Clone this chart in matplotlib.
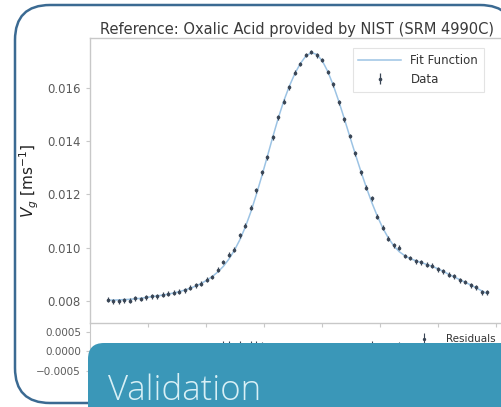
import numpy as np
import matplotlib
matplotlib.use("Agg")
import matplotlib.pyplot as plt
from matplotlib.patches import FancyBboxPatch

# Sampling grid of the sweep (arbitrary units)
freq = np.linspace(0.31, 6.85, 70)

# Fitted group velocity curve
fit_velocity = [
    0.00803, 0.00803, 0.00804, 0.00805, 0.00806, 0.00808, 0.00810, 0.00813, 0.00816, 0.00819,
    0.00822, 0.00826, 0.00830, 0.00835, 0.00841, 0.00848, 0.00856, 0.00866, 0.00878, 0.00892,
    0.00909, 0.00930, 0.00957, 0.00990, 0.01030, 0.01078, 0.01135, 0.01200, 0.01270, 0.01343,
    0.01417, 0.01488, 0.01552, 0.01607, 0.01654, 0.01692, 0.01720, 0.01733, 0.01726, 0.01702,
    0.01662, 0.01610, 0.01550, 0.01485, 0.01418, 0.01352, 0.01288, 0.01227, 0.01170, 0.01119,
    0.01074, 0.01037, 0.01007, 0.00985, 0.00970, 0.00959, 0.00951, 0.00944, 0.00937, 0.00930,
    0.00921, 0.00911, 0.00900, 0.00890, 0.00880, 0.00870, 0.00860, 0.00849, 0.00838, 0.00827,
]

# Measured group velocity
velocity = [
    0.00805, 0.00799, 0.00798, 0.00802, 0.00801, 0.00810, 0.00807, 0.00814, 0.00818, 0.00817,
    0.00823, 0.00827, 0.00831, 0.00834, 0.00840, 0.00849, 0.00858, 0.00865, 0.00880, 0.00890,
    0.00917, 0.00946, 0.00973, 0.00993, 0.01046, 0.01082, 0.01151, 0.01216, 0.01284, 0.01340,
    0.01415, 0.01490, 0.01549, 0.01603, 0.01657, 0.01690, 0.01724, 0.01735, 0.01723, 0.01705,
    0.01660, 0.01614, 0.01547, 0.01483, 0.01420, 0.01355, 0.01284, 0.01225, 0.01186, 0.01117,
    0.01075, 0.01034, 0.01009, 0.01000, 0.00969, 0.00961, 0.00949, 0.00945, 0.00936, 0.00932,
    0.00919, 0.00912, 0.00899, 0.00892, 0.00877, 0.00871, 0.00858, 0.00851, 0.00832, 0.00832,
]
velocity_err = 0.00009
residual_err = 0.0001

y_ticks = [0.008, 0.010, 0.012, 0.014, 0.016]
res_ticks = [-0.0005, 0.0, 0.0005]
title = "Reference: Oxalic Acid provided by NIST (SRM 4990C)"
banner_text = "Validation"

residuals = np.array(velocity) - np.array(fit_velocity)

W, H = 502, 407
fig = plt.figure(figsize=(W / 100, H / 100), dpi=100)
fig.patch.set_facecolor("white")

def px_rect(x0, y0, x1, y1):
    """Axes rectangle from pixel coordinates measured from the top-left."""
    return [x0 / W, (H - y1) / H, (x1 - x0) / W, (y1 - y0) / H]

tick_col = "#5a5a5a"
spine_col = "#c8c8c8"

# Card outline
card = FancyBboxPatch((0.15, 0.04), 5.0, 3.98,
                      boxstyle="round,pad=0,rounding_size=0.35",
                      transform=fig.dpi_scale_trans,
                      facecolor="white", edgecolor="#3b6a92", linewidth=1.8,
                      zorder=-1)
fig.patches.append(card)

# Main panel
ax = fig.add_axes(px_rect(90, 38, 504, 323))
ax.set_facecolor("none")
ax.plot(freq, fit_velocity, color="#9cc3e4", lw=1.1, label="Fit Function", zorder=2)
ax.errorbar(freq, velocity, yerr=velocity_err, fmt="o", ms=1.6, color="#3a4656",
            ecolor="#3a4656", elinewidth=0.9, capsize=0, label="Data", zorder=3)
ax.set_xlim(0, 7.14)
ax.set_ylim(0.00717, 0.01788)
ax.set_yticks(y_ticks)
ax.set_yticklabels([f"{v:.3f}" for v in y_ticks])
ax.set_xticks([1, 2, 3, 4, 5, 6, 7])
ax.set_xticklabels([])
ax.tick_params(colors=spine_col, labelcolor=tick_col, labelsize=8.5, length=3, width=0.8)
for s in ax.spines.values():
    s.set_color(spine_col)
    s.set_linewidth(1.0)
ax.set_title(title, fontsize=10.5, color="#3a3a3a", pad=3)
leg = ax.legend(loc="upper right", bbox_to_anchor=(490 / W, (H - 42) / H),
                bbox_transform=fig.transFigure, fontsize=8.5, frameon=True,
                handlelength=3.6, borderpad=0.5, labelspacing=0.5, fancybox=False)
leg.get_frame().set_edgecolor("#dddddd")
leg.get_frame().set_linewidth(0.8)
for t in leg.get_texts():
    t.set_color("#333333")

# Residual panel
axr = fig.add_axes(px_rect(90, 324, 504, 395))
axr.set_facecolor("none")
axr.errorbar(freq, residuals, yerr=residual_err, fmt="o", ms=1.4, color="#3a4656",
             ecolor="#3a4656", elinewidth=0.8, capsize=0, label="Residuals")
axr.set_xlim(0, 7.14)
axr.set_ylim(-0.00113, 0.00071)
axr.set_yticks(res_ticks)
axr.set_yticklabels(["\u22120.0005", "0.0000", "0.0005"])
axr.set_xticks([])
axr.spines["top"].set_visible(False)
axr.tick_params(colors=spine_col, labelcolor=tick_col, labelsize=7.5, length=3, width=0.8)
for s in axr.spines.values():
    s.set_color(spine_col)
rleg = axr.legend(loc="upper right", bbox_to_anchor=(503 / W, (H - 327) / H),
                  bbox_transform=fig.transFigure, fontsize=7.5, frameon=False,
                  handlelength=2.6, borderpad=0.2)
for t in rleg.get_texts():
    t.set_color("#333333")

# Shared y label
fig.text(29 / W, (H - 181) / H, "$V_g$ [ms$^{-1}$]", rotation=90, ha="center",
         va="center", fontsize=11, color="#222222")

# Section banner
banner = FancyBboxPatch((0.88, -0.5), 4.8, 1.14,
                        boxstyle="round,pad=0,rounding_size=0.16",
                        transform=fig.dpi_scale_trans,
                        facecolor="#3a97b8", edgecolor="none", zorder=5)
fig.patches.append(banner)
fig.text(1.08, 0.075, banner_text, transform=fig.dpi_scale_trans,
         fontsize=25, family=["Open Sans", "DejaVu Sans"], fontweight="light",
         color="#d8f0f6", ha="left", va="baseline", zorder=6)

fig.savefig("out.png", dpi=100, facecolor="white")
